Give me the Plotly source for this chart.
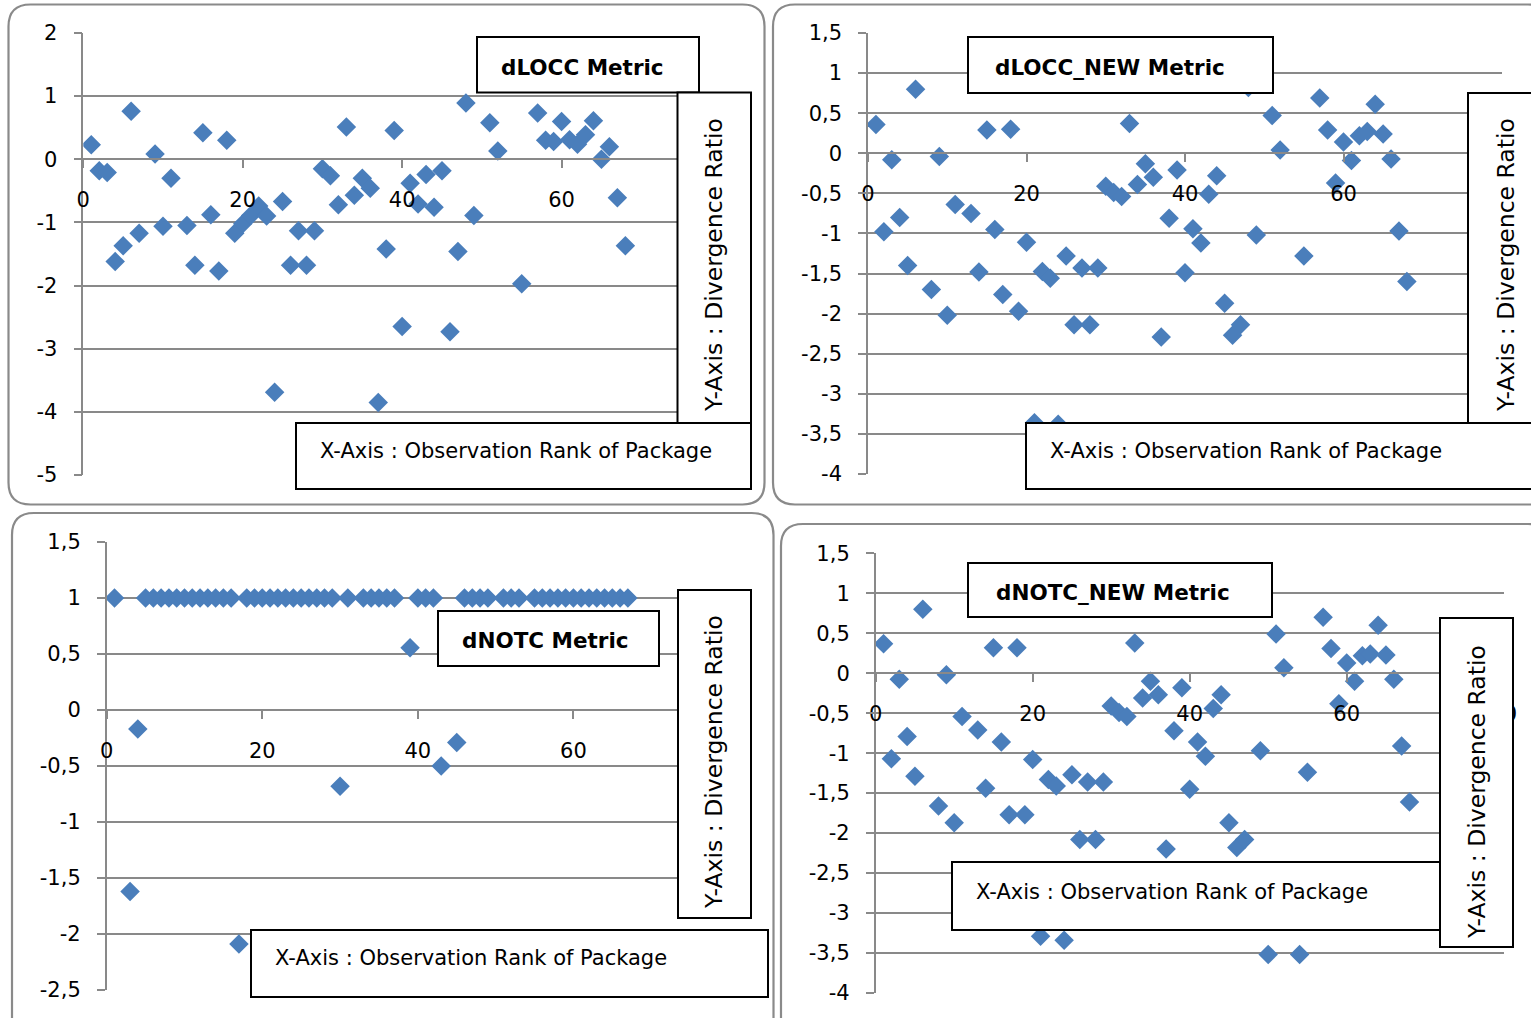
import plotly.graph_objects as go

# ---- data: observation rank of package vs. divergence ratio ----
rank_dlocc = [1, 2, 3, 4, 5, 6, 7, 9, 10, 11, 13, 14, 15, 16, 17, 18, 19, 20, 21, 22,
              23, 24, 25, 26, 27, 28, 29, 30, 31, 32, 33, 34, 35, 36, 37, 38, 39, 40, 41, 42,
              43, 44, 45, 46, 47, 48, 49, 51, 52, 55, 57, 58, 59, 60, 61, 62, 63, 64, 65, 66,
              67, 68]
ratio_dlocc = [0.23, -0.18, -0.21, -1.62, -1.37, 0.76, -1.17, 0.085, -1.06, -0.30,
               -1.05, -1.68, 0.42, -0.88, -1.77, 0.30, -1.17, -1.02, -0.89, -0.74,
               -0.90, -3.69, -0.67, -1.68, -1.13, -1.68, -1.13, -0.15, -0.26, -0.72,
               0.51, -0.57, -0.30, -0.46, -3.85, -1.42, 0.455, -2.65, -0.38, -0.71,
               -0.24, -0.76, -0.18, -2.73, -1.46, 0.89, -0.89, 0.58, 0.13, -1.97,
               0.735, 0.30, 0.28, 0.60, 0.31, 0.24, 0.39, 0.61, 0.0, 0.20,
               -0.61, -1.37]

rank_dlocc_new = [1, 2, 3, 4, 5, 6, 8, 9, 10, 11, 13, 14, 15, 16, 17, 18, 19, 20, 21, 22,
                  23, 24, 25, 26, 27, 28, 29, 30, 31, 32, 33, 34, 35, 36, 37, 38, 39, 40, 41, 42,
                  43, 44, 45, 46, 47, 48, 49, 51, 52, 55, 57, 58, 59, 60, 61, 62, 63, 64, 65, 66,
                  67, 68]
ratio_dlocc_new = [0.36, -0.98, -0.08, -0.80, -1.40, 0.80, -1.70, -0.04, -2.02, -0.64,
                   -0.75, -1.48, 0.29, -0.95, -1.76, 0.30, -1.97, -1.11, -3.36, -1.475,
                   -1.56, -3.38, -1.28, -2.14, -1.43, -2.14, -1.43, -0.41, -0.49, -0.54,
                   0.37, -0.39, -0.13, -0.30, -2.29, -0.81, -0.21, -1.49, -0.94, -1.12,
                   -0.51, -0.28, -1.87, -2.27, -2.14, 0.82, -1.02, 0.47, 0.04, -1.28,
                   0.69, 0.29, -0.37, 0.14, -0.09, 0.22, 0.27, 0.61, 0.24, -0.07,
                   -0.97, -1.60]

rank_dnotc = [1, 3, 4, 5, 6, 7, 8, 9, 10, 11, 12, 13, 14, 15, 16, 17, 18, 19, 20, 21,
              22, 23, 24, 25, 26, 27, 28, 29, 30, 31, 32, 33, 34, 35, 36, 37, 39, 40, 41, 42,
              43, 45, 46, 47, 48, 49, 51, 52, 53, 55, 56, 57, 58, 59, 60, 61, 62, 63, 64, 65,
              66, 67]
ratio_dnotc = [1, -1.62, -0.17, 1, 1, 1, 1, 1, 1, 1, 1, 1, 1, 1, 1, -2.09, 1, 1, 1, 1,
               1, 1, 1, 1, 1, 1, 1, 1, -0.68, 1, -2.06, 1, 1, 1, 1, 1, 0.555, 1, 1, 1,
               -0.50, -0.29, 1, 1, 1, 1, 1, 1, 1, 1, 1, 1, 1, 1, 1, 1, 1, 1, 1, 1,
               1, 1]

rank_dnotc_new = [1, 2, 3, 4, 5, 6, 8, 9, 10, 11, 13, 14, 15, 16, 17, 18, 19, 20, 21, 22,
                  23, 24, 25, 26, 27, 28, 29, 30, 31, 32, 33, 34, 35, 36, 37, 38, 39, 40, 41, 42,
                  43, 44, 45, 46, 47, 49, 50, 51, 52, 54, 55, 57, 58, 59, 60, 61, 62, 63, 64, 65,
                  66, 67, 68]
ratio_dnotc_new = [0.37, -1.07, -0.075, -0.79, -1.29, 0.80, -1.66, -0.02, -1.87, -0.54,
                   -0.71, -1.44, 0.32, -0.86, -1.77, 0.32, -1.77, -1.08, -3.29, -1.33,
                   -1.41, -3.34, -1.27, -2.08, -1.36, -2.08, -1.36, -0.41, -0.49, -0.54,
                   0.38, -0.31, -0.10, -0.27, -2.20, -0.72, -0.18, -1.45, -0.86, -1.04,
                   -0.44, -0.27, -1.87, -2.18, -2.08, -0.97, -3.52, 0.49, 0.07, -3.52,
                   -1.24, 0.70, 0.31, -0.38, 0.13, -0.10, 0.22, 0.24, 0.60, 0.23,
                   -0.075, -0.91, -1.61]

titles = ["dLOCC Metric", "dLOCC_NEW Metric", "dNOTC Metric", "dNOTC_NEW Metric"]
x_label = "X-Axis : Observation Rank of Package"
y_label = "Y-Axis : Divergence Ratio"

x_ticks = [0, 20, 40, 60, 80]
y_ticks_dlocc = [2, 1, 0, -1, -2, -3, -4, -5]
y_ticks_half = [1.5, 1, 0.5, 0, -0.5, -1, -1.5, -2, -2.5, -3, -3.5, -4]
y_ticks_dnotc = [1.5, 1, 0.5, 0, -0.5, -1, -1.5, -2, -2.5]

for xs, ys in [(rank_dlocc, ratio_dlocc), (rank_dlocc_new, ratio_dlocc_new),
               (rank_dnotc, ratio_dnotc), (rank_dnotc_new, ratio_dnotc_new)]:
    assert len(xs) == len(ys)

# ---- page geometry (pixels) ----
W, H = 1531, 1018
FONT = "DejaVu Sans"
GRID = "#898989"
BLUE = "#4A7EBB"


def fx(px):
    return px / W


def fy(py):
    return 1 - py / H


def comma(v):
    return f"{v:g}".replace(".", ",")


panels = [
    dict(xs=rank_dlocc, ys=ratio_dlocc, yticks=y_ticks_dlocc,
         plot=(83.3, 33, 721, 475),
         frame=(8.5, 4.5, 764.5, 504.5),
         title_box=(477, 37, 699, 92.5), title_at=(582, 68),
         ybox=(677.5, 92.5, 751, 423), ylab_at=(714, 265),
         xbox=(296, 423, 751, 489), xlab_at=(516, 451)),
    dict(xs=rank_dlocc_new, ys=ratio_dlocc_new, yticks=y_ticks_half,
         plot=(868, 33, 1502, 474),
         frame=(773, 4.5, 1550, 504.5),
         title_box=(968, 37, 1273, 93), title_at=(1110, 68),
         ybox=(1468, 93, 1545, 423), ylab_at=(1506, 265),
         xbox=(1026, 423, 1545, 489), xlab_at=(1246, 451)),
    dict(xs=rank_dnotc, ys=ratio_dnotc, yticks=y_ticks_dnotc,
         plot=(106.7, 542, 729, 990),
         frame=(12, 513, 773.5, 1040),
         title_box=(438, 611, 659, 666), title_at=(545, 640),
         ybox=(678, 590, 751, 918), ylab_at=(714, 762),
         xbox=(251, 930, 768, 997), xlab_at=(471, 958)),
    dict(xs=rank_dnotc_new, ys=ratio_dnotc_new, yticks=y_ticks_half,
         plot=(875.7, 553.4, 1503.7, 992.9),
         frame=(781, 524, 1550, 1040),
         title_box=(968, 563, 1272, 617), title_at=(1113, 592),
         ybox=(1440, 618, 1513, 947), ylab_at=(1477, 792),
         xbox=(952, 862, 1440, 930), xlab_at=(1172, 892)),
]


def rounded_rect(l, t, r, b, rad):
    pts = [("M", [(l + rad, t)]), ("L", [(r - rad, t)]), ("Q", [(r, t), (r, t + rad)]),
           ("L", [(r, b - rad)]), ("Q", [(r, b), (r - rad, b)]), ("L", [(l + rad, b)]),
           ("Q", [(l, b), (l, b - rad)]), ("L", [(l, t + rad)]), ("Q", [(l, t), (l + rad, t)])]
    out = []
    for cmd, coords in pts:
        out.append(cmd + " " + " ".join(f"{fx(x):.5f},{fy(y):.5f}" for x, y in coords))
    return " ".join(out) + " Z"


fig = go.Figure()
layout = dict(width=W, height=H, margin=dict(l=0, r=0, t=0, b=0, pad=0),
              paper_bgcolor="white", plot_bgcolor="rgba(0,0,0,0)",
              showlegend=False, shapes=[], annotations=[])

tick_font = dict(family=FONT, size=21, color="black")

for i, p in enumerate(panels, start=1):
    sfx = "" if i == 1 else str(i)
    l, t, r, b = p["plot"]
    ymax, ymin = p["yticks"][0], p["yticks"][-1]
    dom_y = [fy(b), fy(t)]
    zero_pos = dom_y[0] + (0 - ymin) / (ymax - ymin) * (dom_y[1] - dom_y[0])

    fig.add_trace(go.Scatter(
        x=p["xs"], y=p["ys"], mode="markers",
        xaxis="x" + sfx, yaxis="y" + sfx,
        marker=dict(symbol="diamond", size=15, color=BLUE, line=dict(width=0)),
        hoverinfo="x+y"))

    layout["xaxis" + sfx] = dict(
        domain=[fx(l), fx(r)], range=[0, 80], anchor="free", position=zero_pos,
        automargin=False,
        tickmode="array", tickvals=x_ticks, ticktext=[str(v) for v in x_ticks],
        showgrid=False, zeroline=False, showline=True, linecolor=GRID, linewidth=1.5,
        ticks="outside", ticklen=8, tickwidth=1.5, tickcolor=GRID,
        tickfont=tick_font, ticklabelstandoff=14, fixedrange=True)
    layout["yaxis" + sfx] = dict(
        domain=dom_y, range=[ymin, ymax], anchor="x" + sfx, automargin=False,
        tickmode="array", tickvals=p["yticks"], ticktext=[comma(v) for v in p["yticks"]],
        showgrid=True, gridcolor=GRID, gridwidth=1.5, zeroline=False,
        showline=True, linecolor=GRID, linewidth=1.5,
        ticks="outside", ticklen=8, tickwidth=1.5, tickcolor=GRID,
        tickfont=tick_font, ticklabelstandoff=12, fixedrange=True)

    # chart frame with rounded corners
    fl, ft, fr, fb = p["frame"]
    layout["shapes"].append(dict(type="path", path=rounded_rect(fl, ft, fr, fb, 22),
                                 xref="paper", yref="paper", layer="below",
                                 line=dict(color="#8a8a8a", width=2.2),
                                 fillcolor="rgba(0,0,0,0)"))

    # text boxes drawn over the plot area
    for key in ("title_box", "ybox", "xbox"):
        bl, bt, br, bb = p[key]
        layout["shapes"].append(dict(type="rect", xref="paper", yref="paper", layer="above",
                                     x0=fx(bl), x1=fx(br), y0=fy(bb), y1=fy(bt),
                                     line=dict(color="black", width=2), fillcolor="white"))

    tx, ty = p["title_at"]
    layout["annotations"].append(dict(
        text="<b>" + titles[i - 1] + "</b>", x=fx(tx), y=fy(ty), xref="paper", yref="paper",
        xanchor="center", yanchor="middle", showarrow=False,
        font=dict(family=FONT, size=21.5, color="black")))
    lx, ly = p["xlab_at"]
    layout["annotations"].append(dict(
        text=x_label, x=fx(lx), y=fy(ly), xref="paper", yref="paper",
        xanchor="center", yanchor="middle", showarrow=False,
        font=dict(family=FONT, size=21, color="black")))
    vx, vy = p["ylab_at"]
    layout["annotations"].append(dict(
        text=y_label, x=fx(vx), y=fy(vy), xref="paper", yref="paper",
        xanchor="center", yanchor="middle", showarrow=False, textangle=-90,
        font=dict(family=FONT, size=23.5, color="black")))

fig.update_layout(**layout)
fig.write_html("out.html", config={"displayModeBar": False})
